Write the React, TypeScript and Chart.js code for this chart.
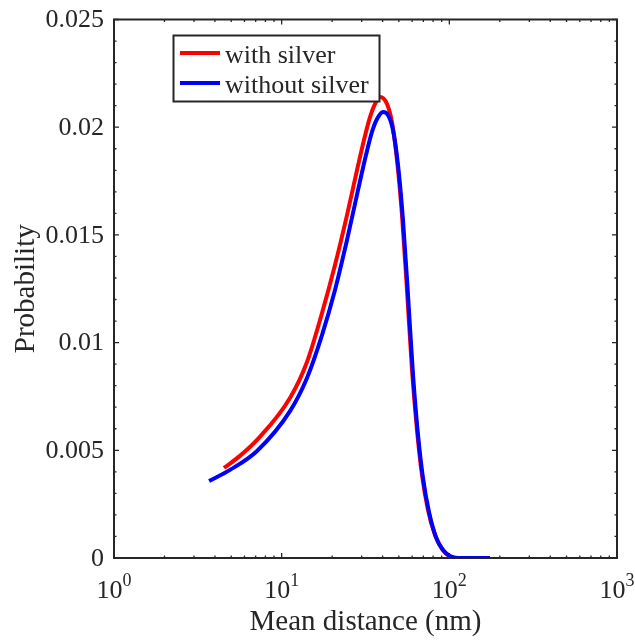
import { useEffect, useRef } from "react";
import { Chart, registerables } from "chart.js";

Chart.register(...registerables);

// ---- data ----
const redX = [4.53, 5.64, 7.13, 11.21, 14.16, 17.4, 20.8, 24.53, 28.14, 30.97, 33.64, 36.04, 38.6, 42.49, 45.5, 48.74, 52.21, 55.92, 59.9, 64.15, 68.71, 74.61, 82.13, 90.42, 99.54, 109.6, 160];
const redY = [0.00418, 0.00474, 0.00548, 0.00743, 0.0091, 0.01137, 0.0136, 0.01592, 0.01801, 0.01941, 0.02047, 0.02108, 0.0214, 0.02108, 0.02024, 0.01848, 0.01592, 0.01244, 0.00873, 0.00594, 0.00385, 0.00223, 0.00107, 0.00042, 0.00009, 0, 0];

const blueX = [3.69, 4.92, 7.13, 11.21, 14.16, 17.4, 20.8, 24.53, 28.53, 31.84, 34.57, 37.03, 40.21, 43.08, 46.13, 49.41, 52.92, 56.68, 60.73, 65.04, 69.66, 75.62, 83.24, 91.66, 100.9, 112.6, 142.2, 174.8];
const blueY = [0.00357, 0.00409, 0.00497, 0.00682, 0.00836, 0.01035, 0.01244, 0.01476, 0.01708, 0.01871, 0.01978, 0.02038, 0.02071, 0.02057, 0.01987, 0.01825, 0.01569, 0.01221, 0.0085, 0.00571, 0.00371, 0.00214, 0.00097, 0.00037, 0.00009, 0, 0, 0];

const seriesLabels = ["with silver", "without silver"];
const seriesColors = ["#ff0000", "#0000ff"];

const yTickValues = [0, 0.005, 0.01, 0.015, 0.02, 0.025];
const yTickLabels = ["0", "0.005", "0.01", "0.015", "0.02", "0.025"];
const xTickValues = [1, 10, 100, 1000];
const xTickBase = "10";
const xTickExponents = ["0", "1", "2", "3"];

const xTitle = "Mean distance (nm)";
const yTitle = "Probability";

const INK = "#262626";
const FONT = "'Liberation Serif', 'Times New Roman', serif";

const frame = {
  id: "frame",
  beforeDatasetsDraw(chart: any) {
    const { ctx, chartArea: a, scales } = chart;
    const x = scales.x;
    const y = scales.y;
    ctx.save();
    ctx.strokeStyle = INK;
    // ticks (inward, all four sides)
    ctx.lineWidth = 1.3;
    ctx.beginPath();
    for (let d = 0; d < 3; d++) {
      for (let m = 1; m <= 9; m++) {
        const v = m * Math.pow(10, d);
        const px = x.getPixelForValue(v);
        const len = m === 1 ? 5 : 2.5;
        ctx.moveTo(px, a.bottom);
        ctx.lineTo(px, a.bottom - len);
        ctx.moveTo(px, a.top);
        ctx.lineTo(px, a.top + len);
      }
    }
    for (let k = 0; k <= 25; k++) {
      const py = y.getPixelForValue(k * 0.001);
      const len = k % 5 === 0 ? 5 : 2.5;
      ctx.moveTo(a.left, py);
      ctx.lineTo(a.left + len, py);
      ctx.moveTo(a.right, py);
      ctx.lineTo(a.right - len, py);
    }
    ctx.stroke();
    // box
    ctx.lineWidth = 2;
    ctx.strokeRect(a.left, a.top, a.right - a.left, a.bottom - a.top);

    // y tick labels
    ctx.fillStyle = INK;
    ctx.font = `26px ${FONT}`;
    ctx.textAlign = "right";
    ctx.textBaseline = "middle";
    yTickValues.forEach((v, i) => {
      ctx.fillText(yTickLabels[i], a.left - 10, y.getPixelForValue(v) + 1);
    });

    // x tick labels with superscripts
    ctx.textBaseline = "alphabetic";
    ctx.textAlign = "left";
    xTickValues.forEach((v, i) => {
      const px = x.getPixelForValue(v);
      ctx.font = `26px ${FONT}`;
      const bw = ctx.measureText(xTickBase).width;
      ctx.font = `18px ${FONT}`;
      const ew = ctx.measureText(xTickExponents[i]).width;
      const start = px - (bw + ew) / 2;
      ctx.font = `26px ${FONT}`;
      ctx.fillText(xTickBase, start, a.bottom + 40);
      ctx.font = `18px ${FONT}`;
      ctx.fillText(xTickExponents[i], start + bw, a.bottom + 28);
    });

    // axis titles
    ctx.font = `29px ${FONT}`;
    ctx.textAlign = "center";
    ctx.fillText(xTitle, (a.left + a.right) / 2, a.bottom + 72);
    ctx.save();
    ctx.translate(34, (a.top + a.bottom) / 2);
    ctx.rotate(-Math.PI / 2);
    ctx.fillText(yTitle, 0, 0);
    ctx.restore();
    ctx.restore();
  },
  afterDatasetsDraw(chart: any) {
    const { ctx } = chart;
    ctx.save();
    // legend box
    const bx = 173.5, by = 35.5, bw = 206, bh = 66;
    ctx.fillStyle = "#ffffff";
    ctx.fillRect(bx, by, bw, bh);
    ctx.strokeStyle = INK;
    ctx.lineWidth = 2;
    ctx.strokeRect(bx, by, bw, bh);
    ctx.font = `26px ${FONT}`;
    ctx.textAlign = "left";
    ctx.textBaseline = "alphabetic";
    seriesLabels.forEach((lab, i) => {
      const ly = 53 + i * 30;
      ctx.strokeStyle = seriesColors[i];
      ctx.lineWidth = 4;
      ctx.beginPath();
      ctx.moveTo(180, ly);
      ctx.lineTo(220, ly);
      ctx.stroke();
      ctx.fillStyle = INK;
      ctx.fillText(lab, 225, ly + 9.5);
    });
    ctx.restore();
  },
};

export default function App() {
  const ref = useRef<HTMLCanvasElement>(null);
  useEffect(() => {
    if (!ref.current) return;
    const chart = new Chart(ref.current, {
      type: "line",
      data: {
        datasets: [
          {
            label: seriesLabels[0],
            data: redX.map((v, i) => ({ x: v, y: redY[i] })),
            borderColor: seriesColors[0],
            borderWidth: 4,
            pointRadius: 0,
            fill: false,
            cubicInterpolationMode: "monotone",
            order: 1,
          },
          {
            label: seriesLabels[1],
            data: blueX.map((v, i) => ({ x: v, y: blueY[i] })),
            borderColor: seriesColors[1],
            borderWidth: 4,
            pointRadius: 0,
            fill: false,
            cubicInterpolationMode: "monotone",
            order: 0,
          },
        ],
      },
      options: {
        responsive: false,
        animation: false,
        layout: { padding: { left: 114, right: 18, top: 19.5, bottom: 83 } },
        scales: {
          x: {
            type: "logarithmic",
            display: false,
            min: 1,
            max: 1000,
          },
          y: {
            type: "linear",
            display: false,
            min: 0,
            max: 0.025,
          },
        },
        plugins: {
          legend: { display: false },
          tooltip: { enabled: false },
        },
      },
      plugins: [frame],
    });
    return () => chart.destroy();
  }, []);
  return (
    <canvas
      ref={ref}
      width={635}
      height={641}
      style={{ position: "absolute", left: 0, top: 0, width: 635, height: 641 }}
    />
  );
}
